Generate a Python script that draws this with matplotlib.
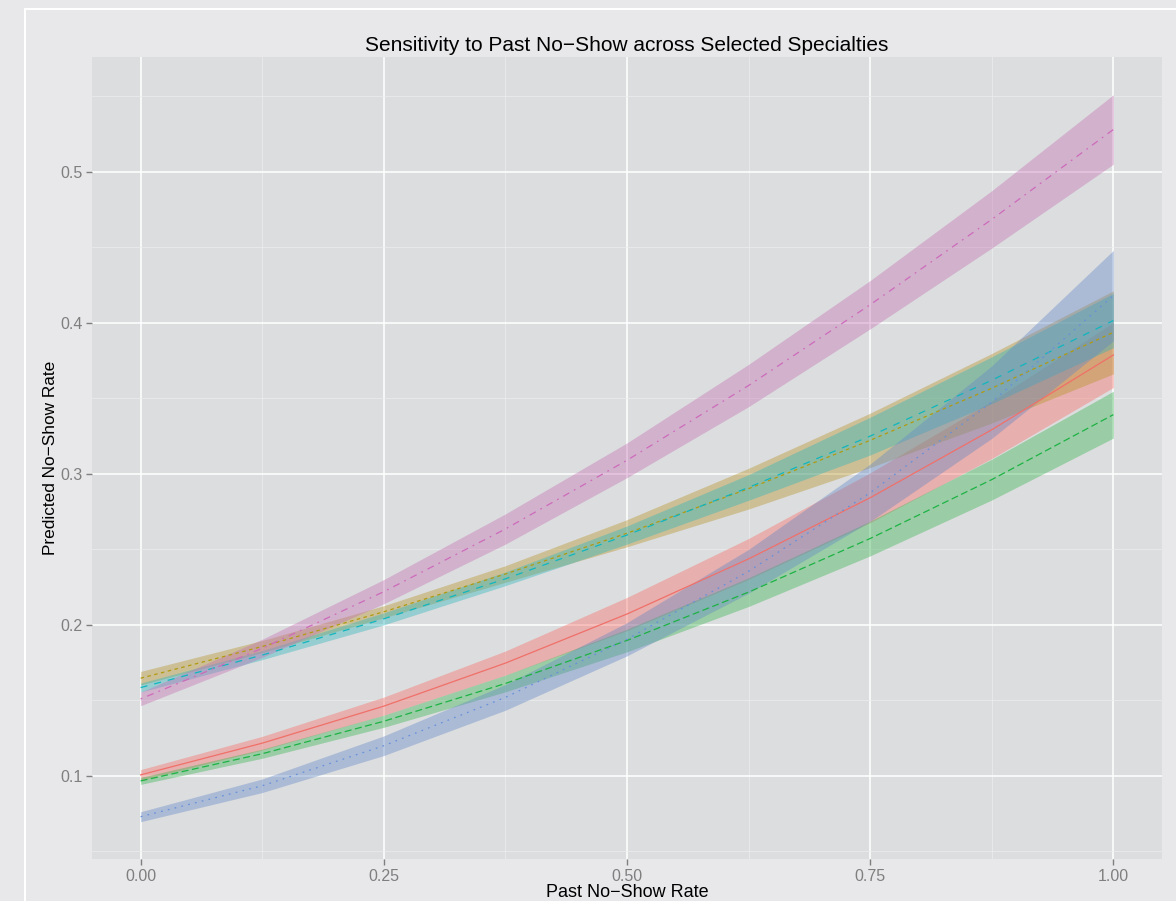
import matplotlib
matplotlib.use('Agg')
import matplotlib.pyplot as plt
from matplotlib.lines import Line2D

plt.rcParams['font.family'] = ['Liberation Sans', 'DejaVu Sans']
plt.rcParams['lines.scale_dashes'] = False

x = [0.0, 0.125, 0.25, 0.375, 0.5, 0.625, 0.75, 0.875, 1.0]

red_fit = [0.1007, 0.1217, 0.1462, 0.1747, 0.2072, 0.2437, 0.2842, 0.3292, 0.3787]
red_lo = [0.0972, 0.1172, 0.1402, 0.1667, 0.1962, 0.2302, 0.2677, 0.3102, 0.3572]
red_hi = [0.1042, 0.1262, 0.1522, 0.1827, 0.2182, 0.2572, 0.3007, 0.3482, 0.4002]

olive_fit = [0.1647, 0.1857, 0.2087, 0.2337, 0.2607, 0.2902, 0.3222, 0.3567, 0.3937]
olive_lo = [0.1602, 0.1817, 0.2047, 0.2282, 0.2517, 0.2767, 0.3042, 0.3337, 0.3662]
olive_hi = [0.1692, 0.1897, 0.2127, 0.2392, 0.2697, 0.3037, 0.3402, 0.3797, 0.4212]

green_fit = [0.0967, 0.1147, 0.1362, 0.1612, 0.1897, 0.2217, 0.2572, 0.2962, 0.3392]
green_lo = [0.0944, 0.1117, 0.1322, 0.1557, 0.1822, 0.2122, 0.2457, 0.2827, 0.3237]
green_hi = [0.0990, 0.1177, 0.1402, 0.1667, 0.1972, 0.2312, 0.2687, 0.3097, 0.3547]

cyan_fit = [0.1585, 0.1800, 0.2040, 0.2305, 0.2595, 0.2910, 0.3250, 0.3620, 0.4015]
cyan_lo = [0.1555, 0.1770, 0.2000, 0.2260, 0.2535, 0.2825, 0.3125, 0.3465, 0.3835]
cyan_hi = [0.1615, 0.1830, 0.2080, 0.2350, 0.2655, 0.2995, 0.3375, 0.3775, 0.4195]

blue_fit = [0.0730, 0.0935, 0.1200, 0.1520, 0.1905, 0.2355, 0.2875, 0.3475, 0.4180]
blue_lo = [0.0697, 0.0890, 0.1135, 0.1435, 0.1795, 0.2210, 0.2685, 0.3235, 0.3880]
blue_hi = [0.0763, 0.0980, 0.1265, 0.1605, 0.2015, 0.2500, 0.3065, 0.3715, 0.4480]

pink_fit = [0.1510, 0.1845, 0.2220, 0.2635, 0.3090, 0.3585, 0.4120, 0.4685, 0.5280]
pink_lo = [0.1465, 0.1785, 0.2140, 0.2535, 0.2975, 0.3445, 0.3960, 0.4495, 0.5050]
pink_hi = [0.1555, 0.1905, 0.2300, 0.2735, 0.3205, 0.3725, 0.4280, 0.4875, 0.5510]

U = 1.26
# fit, lower, upper, line colour, band colour, line style
series = [
    (red_fit, red_lo, red_hi, '#F0706A', '#F86C62', '-'),
    (olive_fit, olive_lo, olive_hi, '#B09A10', '#B69428', (0, (2 * U, 2 * U))),
    (green_fit, green_lo, green_hi, '#1DB245', '#37B54E', (0, (4 * U, 2 * U))),
    (cyan_fit, cyan_lo, cyan_hi, '#10B6BE', '#2DB5BE', (0, (4 * U, 4 * U))),
    (blue_fit, blue_lo, blue_hi, '#6690DA', '#6488C6', (0, (1 * U, 3 * U))),
    (pink_fit, pink_lo, pink_hi, '#CD6BBA', '#C371B4', (0, (1 * U, 3 * U, 4 * U, 3 * U))),
]

fig = plt.figure(figsize=(11.76, 9.01), dpi=100, facecolor='#E8E8EA')
ax = fig.add_axes([92 / 1176, 1 - 859 / 901, 1070 / 1176, 802 / 901])
ax.set_facecolor('#DCDDDF')

# frame line of the original graphic
fig.add_artist(Line2D([25 / 1176, 25 / 1176], [0, 1 - 9 / 901], color='white', lw=1.5))
fig.add_artist(Line2D([25 / 1176, 1], [1 - 9 / 901, 1 - 9 / 901], color='white', lw=1.5))

for fit, lo, hi, lc, fc, ls in series:
    ax.fill_between(x, lo, hi, color=fc, alpha=0.4, lw=0, zorder=2)
for fit, lo, hi, lc, fc, ls in series:
    ax.plot(x, fit, color=lc, linestyle=ls, lw=0.9, zorder=3)

ax.set_xlim(-0.05, 1.05)
ax.set_ylim(0.045, 0.576)
ax.set_xticks([0, 0.25, 0.5, 0.75, 1.0])
ax.set_xticklabels(['0.00', '0.25', '0.50', '0.75', '1.00'])
ax.set_yticks([0.1, 0.2, 0.3, 0.4, 0.5])
ax.set_yticklabels(['0.1', '0.2', '0.3', '0.4', '0.5'])
ax.set_xticks([0.125, 0.375, 0.625, 0.875], minor=True)
ax.set_yticks([0.05, 0.15, 0.25, 0.35, 0.45, 0.55], minor=True)
ax.grid(which='major', color='white', lw=1.1, zorder=1)
ax.grid(which='minor', color='#EDEDEE', lw=0.5, zorder=1)
ax.set_axisbelow(True)
for s in ax.spines.values():
    s.set_visible(False)
ax.tick_params(which='major', colors='#7F7F7F', length=4, width=1, labelsize=11.5, pad=3)
ax.tick_params(which='minor', length=0)

ax.set_title('Sensitivity to Past No\u2212Show across Selected Specialties', fontsize=15, pad=4)
ax.set_xlabel('Past No\u2212Show Rate', fontsize=13, labelpad=0)
ax.set_ylabel('Predicted No\u2212Show Rate', fontsize=12.4, labelpad=1.5)

fig.savefig('out.png', dpi=100, facecolor=fig.get_facecolor())
